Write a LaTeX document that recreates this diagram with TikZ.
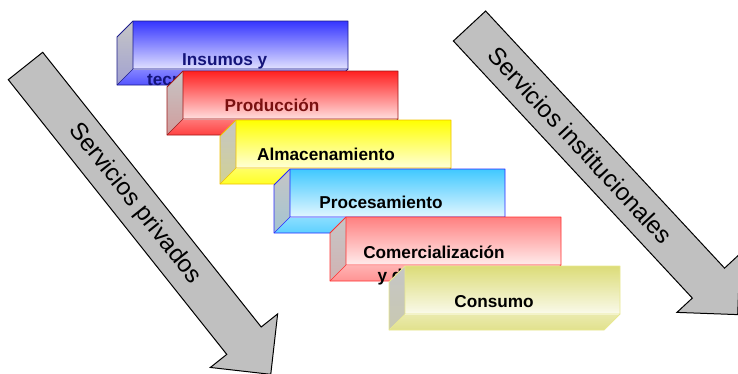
\documentclass[tikz,border=0pt]{standalone}
\usepackage{fontspec}
\setmainfont{Liberation Sans}
\usepackage{tikz}
\usetikzlibrary{positioning}
\definecolor{azul}{HTML}{3535FF}
\definecolor{azulb}{HTML}{1C1C8C}
\definecolor{azulosc}{HTML}{14147A}
\definecolor{rojo}{HTML}{FF2020}
\definecolor{rojob}{HTML}{A01818}
\definecolor{rojoosc}{HTML}{7A1010}
\definecolor{amarillo}{HTML}{FFFF00}
\definecolor{amarillob}{HTML}{F0C000}
\definecolor{celeste}{HTML}{40C8FF}
\definecolor{celesteb}{HTML}{2828FF}
\definecolor{rosa}{HTML}{FF8080}
\definecolor{rosab}{HTML}{FF3030}
\definecolor{caqui}{HTML}{DCDC78}
\definecolor{caquic}{HTML}{FFFF99}
\definecolor{caquib}{HTML}{E8E890}
\definecolor{gris}{HTML}{C0C0C0}
\tikzset{
  etiqueta/.style={font=\fontsize{17.2}{20.5}\selectfont\bfseries, inner sep=0pt, anchor=base},
  flecha/.style={fill=gris, draw=black, line width=1pt, line join=miter},
  servicio/.style={font=\fontsize{24.3}{28}\selectfont, inner sep=0pt}
}
% box: x, y of front corner, top colour, middle colour, border
\newcommand{\caja}[5]{%
  \shade[top color=gray!45, bottom color=#3!40!gray!60] (#1-16,#2-16) -- (#1,#2) -- (#1,#2-48) -- (#1-16,#2-64) -- cycle;
  \shade[top color=#3!60, bottom color=#3!85] (#1-16,#2-64) -- (#1,#2-48) -- (#1+215,#2-48) -- (#1+199,#2-64) -- cycle;
  \shade[top color=#3, middle color=#4, bottom color=#3!15] (#1,#2) rectangle (#1+215,#2-48);
  \draw[#5, line width=0.8pt, line join=round] (#1-16,#2-16) -- (#1,#2) -- (#1+215,#2) -- (#1+215,#2-48) -- (#1+199,#2-64) -- (#1-16,#2-64) -- cycle;
  \draw[#5, line width=0.6pt] (#1-16,#2-64) -- (#1,#2-48) -- (#1+215,#2-48) (#1,#2) -- (#1,#2-48);
}

\begin{document}
\begin{tikzpicture}[x=1pt,y=1pt]
\useasboundingbox (0,-373) rectangle (738,0);
\clip (0,-373) rectangle (738,0);

\caja{133}{-21}{azul}{white}{azulb}
\node[etiqueta, anchor=base west, align=left, text=azulosc] (insumos) at (147,-85.5) {\hspace*{35pt}Insumos y\\tecnología};
\caja{183}{-71}{rojo}{white}{rojob}
\node[etiqueta, text=rojoosc] (produccion) at (272,-111) {Producción};
\caja{236}{-120}{amarillo}{white}{amarillob}
\node[etiqueta] (almacen) at (326,-160) {Almacenamiento};
\caja{290}{-169}{celeste}{white}{celesteb}
\node[etiqueta] (proceso) at (381,-208) {Procesamiento};
\caja{346}{-217}{rosa}{white}{rosab}
\node[etiqueta, align=center] (comercio) at (434,-281.5) {Comercialización\\[2.5pt]y distribución};
\caja{405}{-266}{caqui}{caquic}{caquib}
\node[etiqueta] (consumo) at (494,-307) {Consumo};

% arrows
\begin{scope}[shift={(25.5,-66)}, rotate=-51.5]
\draw[flecha] (0,22) -- (351,22) -- (351,43) -- (394,0) -- (351,-43) -- (351,-22) -- (0,-22) -- cycle;
\node[servicio, rotate=-51.5] (privados) at (176,0) {Servicios privados};
\end{scope}
\begin{scope}[shift={(469.5,-26)}, rotate=-47.1]
\draw[flecha] (0,22) -- (351,22) -- (351,43) -- (394,0) -- (351,-43) -- (351,-22) -- (0,-22) -- cycle;
\node[servicio, rotate=-47.1] (institucionales) at (163,0) {Servicios institucionales};
\end{scope}
\end{tikzpicture}
\end{document}
